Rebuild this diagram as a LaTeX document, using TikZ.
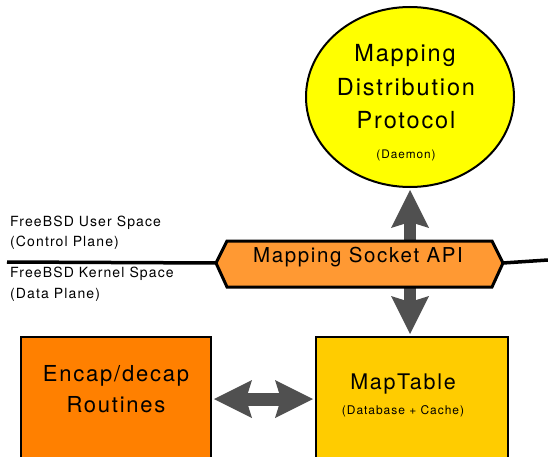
\documentclass[tikz,border=0pt]{standalone}
\usepackage{fontspec}
\setmainfont[LetterSpace=8]{TeX Gyre Heros}
\usetikzlibrary{arrows.meta,shapes.geometric}
\definecolor{ellfill}{HTML}{FFFF00}
\definecolor{apifill}{HTML}{FF9933}
\definecolor{encfill}{HTML}{FF8000}
\definecolor{mapfill}{HTML}{FFCC00}
\definecolor{arrgrey}{HTML}{505050}
\newcommand\fsz[1]{\fontsize{#1}{#1}\selectfont}
\begin{document}
\begin{tikzpicture}[x=1pt,y=-1pt,
  lbl/.style={inner sep=0pt, anchor=base},
  lbll/.style={inner sep=0pt, anchor=base west, font=\fsz{14}},
  boxstyle/.style={draw, line width=2pt, rectangle, minimum height=124pt, inner sep=0pt},
  bigarrow/.style={draw=arrgrey, line width=#1,
     {Stealth[length=38pt, width=38pt, inset=6pt, line width=0pt]}-{Stealth[length=38pt, width=38pt, inset=6pt, line width=0pt]},
     shorten >=2pt, shorten <=2pt},
  sepline/.style={line width=3.5pt}
]
\clip (0,0) rectangle (548,457);
\fill[white] (0,0) rectangle (548,457);

% separating line
\coordinate (lineL) at (7,262);
\coordinate (lineR) at (548,260);
\coordinate (hL) at (216,263);
\coordinate (hR) at (503,263);
\draw[sepline] (lineL) -- (hL);
\draw[sepline] (hR) -- (lineR);

% ellipse
\node[ellipse, draw, line width=2pt, fill=ellfill, minimum width=208pt, minimum height=180pt, inner sep=0pt] (mdp) at (410,97) {};

% boxes
\node[boxstyle, fill=encfill, minimum width=190pt] (enc) at (116,399) {};
\node[boxstyle, fill=mapfill, minimum width=192pt] (map) at (412,399) {};

% arrows
\draw[bigarrow=11.5pt] (mdp.south) -- (mdp.south |- map.north);
\draw[bigarrow=13pt] (enc.east) -- (map.west);

% hexagon
\draw[line width=3pt, fill=apifill, line join=miter] (hL) -- (227,241) -- (492,241) -- (hR) -- (492,287) -- (227,287) -- cycle;
\node[lbl, font=\fsz{20.5}] (api) at (358,262) {Mapping Socket API};

% ellipse text
\node[lbl, font=\fsz{23.5}] (m1) at (405,62) {Mapping};
\node[lbl, font=\fsz{23.5}] (m2) at (406,96) {Distribution};
\node[lbl, font=\fsz{23.5}] (m3) at (406,129) {Protocol};
\node[lbl, font=\fsz{11.8}] (m4) at (406,158) {(Daemon)};

% left labels
\node[lbll] (u1) at (10,226) {FreeBSD User Space};
\node[lbll] (u2) at (10,246) {(Control Plane)};
\node[lbll] (k1) at (10,277) {FreeBSD Kernel Space};
\node[lbll] (k2) at (10,298) {(Data Plane)};

% box texts
\node[lbl, font=\fsz{22}] (e1) at (116,381) {Encap/decap};
\node[lbl, font=\fsz{22}] (e2) at (116,412) {Routines};
\node[lbl, font=\fsz{21.5}] (p1) at (403,389) {MapTable};
\node[lbl, font=\fsz{12}] (p2) at (403,414) {(Database + Cache)};
\end{tikzpicture}
\end{document}
